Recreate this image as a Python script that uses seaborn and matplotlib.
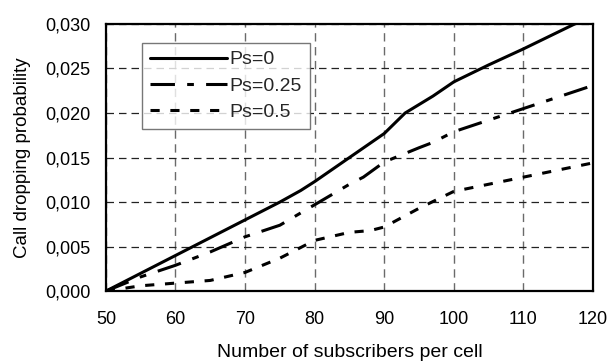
import matplotlib
matplotlib.use("Agg")
import matplotlib.pyplot as plt
import seaborn as sns
import pandas as pd
from matplotlib.ticker import FuncFormatter, MultipleLocator

sns.set_theme(style="white")
plt.rcParams['font.family'] = ['Liberation Sans', 'DejaVu Sans']

labels = ["Ps=0", "Ps=0.25", "Ps=0.5"]

x_ps0 = [50, 55, 60, 65, 70, 75, 78, 80, 85, 90, 93, 97, 100, 105, 110, 115, 120]
y_ps0 = [0.0, 2.0, 4.0, 6.0, 8.0, 10.0, 11.3, 12.3, 15.0, 17.7, 20.0, 21.9, 23.5, 25.4, 27.2, 29.1, 31.0]

x_ps025 = [50, 55, 60, 65, 70, 75, 80, 85, 87, 90, 95, 97, 100, 105, 110, 115, 120]
y_ps025 = [0.0, 1.6, 2.9, 4.4, 6.1, 7.4, 9.7, 12.0, 12.8, 14.5, 16.1, 16.7, 17.9, 19.2, 20.5, 21.8, 23.1]

x_ps05 = [50, 55, 60, 65, 70, 75, 80, 85, 88, 90, 95, 100, 105, 110, 115, 120]
y_ps05 = [0.0, 0.6, 0.9, 1.2, 2.1, 3.7, 5.7, 6.6, 6.8, 7.2, 9.3, 11.2, 12.0, 12.8, 13.6, 14.4]

series = [(x_ps0, y_ps0), (x_ps025, y_ps025), (x_ps05, y_ps05)]
styles = ["-", (0, (8, 4, 2.2, 4)), (0, (3, 3.5))]

fig = plt.figure(figsize=(6.12, 3.63), dpi=100)
ax = fig.add_axes([0.173, 0.198, 0.796, 0.736])

for (xs, ys), lab, ls in zip(series, labels, styles):
    df = pd.DataFrame({"x": xs, "y": [v / 1000 for v in ys]})
    sns.lineplot(data=df, x="x", y="y", ax=ax, color="black", lw=2.2,
                 linestyle=ls, label=lab)

ax.set_xlim(50, 120)
ax.set_ylim(0, 0.030)
ax.xaxis.set_major_locator(MultipleLocator(10))
ax.yaxis.set_major_locator(MultipleLocator(0.005))
ax.yaxis.set_major_formatter(FuncFormatter(lambda v, p: f"{v:.3f}".replace(".", ",")))

ax.xaxis.grid(True, linestyle=(0, (6, 4)), color="#6a6a6a", linewidth=1.0)
ax.yaxis.grid(True, linestyle=(0, (6, 4)), color="#222222", linewidth=0.9)
ax.set_axisbelow(True)
for s in ax.spines.values():
    s.set_color("black")
    s.set_linewidth(1.6)

ax.tick_params(axis="both", which="both", length=0, labelsize=13, colors="black")
ax.tick_params(axis="y", pad=11)
ax.tick_params(axis="x", pad=14)
ax.set_xlabel("Number of subscribers per cell", fontsize=14, color="black", labelpad=12)
ax.set_ylabel("Call dropping probability", fontsize=13.5, color="black", labelpad=10)

leg = ax.legend(loc="upper left", bbox_to_anchor=(0.074, 0.929), borderaxespad=0,
                fontsize=14, frameon=True, fancybox=False, handlelength=4.0,
                handletextpad=0.1, labelspacing=0.45, borderpad=0.4)
leg.get_frame().set_edgecolor("#555555")
leg.get_frame().set_linewidth(1.0)

fig.savefig("out.png", dpi=100)
